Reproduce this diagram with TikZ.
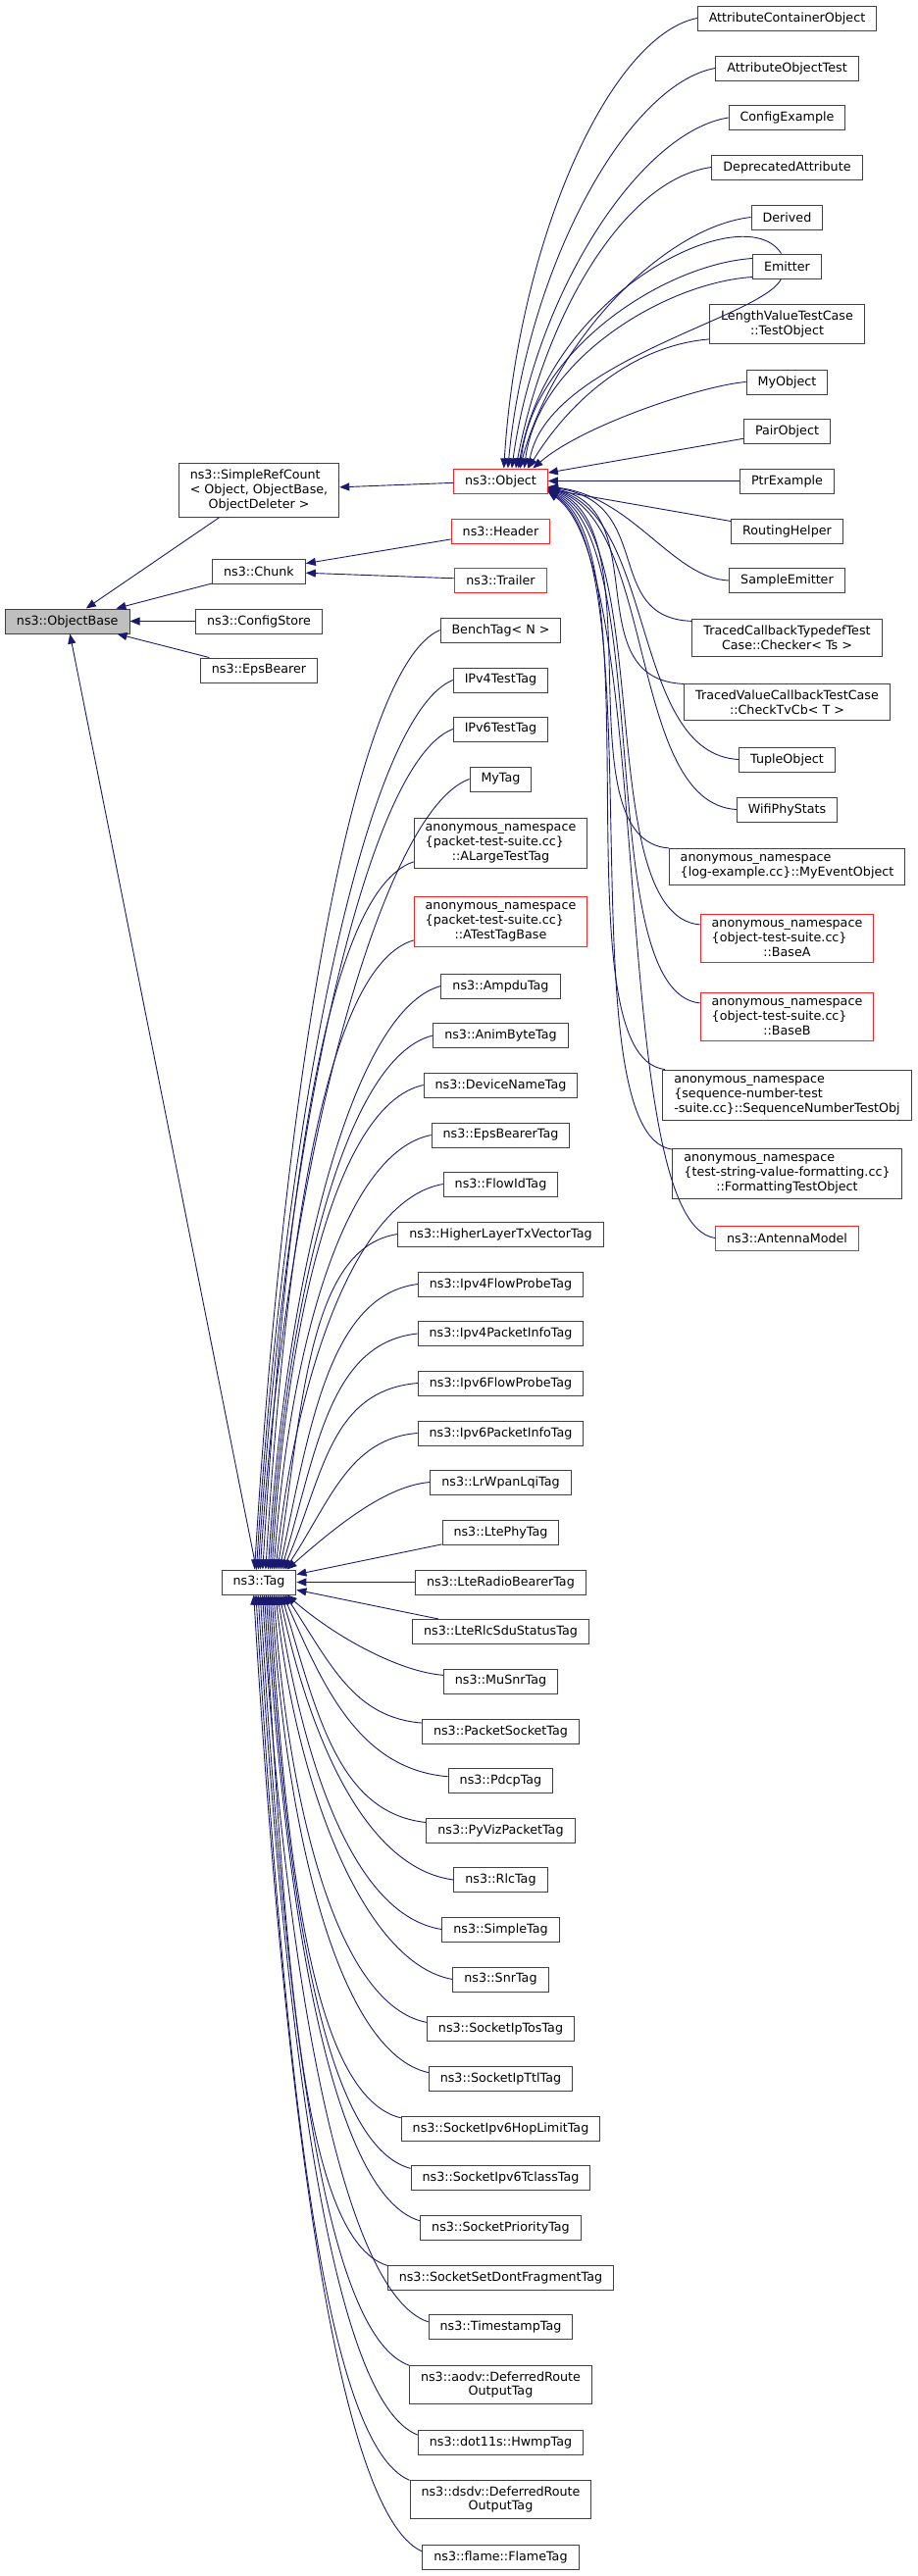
\documentclass[tikz,border=0pt]{standalone}
\usepackage{fontspec}
\setmainfont{DejaVu Sans}
\usepackage{xcolor}
\usetikzlibrary{arrows.meta}
\definecolor{edgeblue}{HTML}{191970}
\definecolor{boxline}{HTML}{404040}
\definecolor{boxred}{HTML}{FF2020}
\definecolor{boxgrey}{HTML}{BFBFBF}
\newcommand{\ctr}[1]{\hfill#1\hfill\mbox{}}
\tikzset{
  cls/.style={draw=boxline, line width=1pt, fill=white, inner xsep=11.5pt, inner ysep=6.3pt,
    minimum height=25pt, align=left, font=\fontsize{12.7}{14.8}\selectfont},
  inherit/.style={draw=edgeblue, line width=0.9pt, {Triangle[length=10pt,width=8pt]}-},
}

\begin{document}
\begin{tikzpicture}[x=1pt,y=-1pt]
  \useasboundingbox (0,0) rectangle (936,2627);
  % bases
  \node[cls, fill=boxgrey] (ObjectBase) at (68.75,633.5) {ns3::ObjectBase};
  \node[cls] (SRC) at (264,500) {ns3::SimpleRefCount\\< Object, ObjectBase,\\\ctr{ObjectDeleter >}};
  \node[cls] (Chunk) at (264,582.5) {ns3::Chunk};
  \node[cls] (ConfigStore) at (264,633.5) {ns3::ConfigStore};
  \node[cls] (EpsBearer) at (264,683.5) {ns3::EpsBearer};
  \node[cls] (Tag) at (264,1613.5) {ns3::Tag};
  \node[cls, draw=boxred] (Object) at (510.5,490.5) {ns3::Object};
  \node[cls, draw=boxred] (Header) at (510.5,541.5) {ns3::Header};
  \node[cls, draw=boxred] (Trailer) at (510.5,591.5) {ns3::Trailer};

  % subclasses of ns3::Object
  \foreach \n/\y/\c/\t in {
    ACO/18.5/boxline/AttributeContainerObject,
    AOT/69.5/boxline/AttributeObjectTest,
    CE/120/boxline/ConfigExample,
    DA/170.5/boxline/DeprecatedAttribute,
    Der/221.5/boxline/Derived,
    Emi/271.5/boxline/Emitter,
    LVT/330.5/boxline/{LengthValueTestCase\\\ctr{::TestObject}},
    MyO/389.5/boxline/MyObject,
    PO/439.5/boxline/PairObject,
    PE/490.5/boxline/PtrExample,
    RH/541.5/boxline/RoutingHelper,
    SE/592/boxline/SampleEmitter,
    TCT/650.5/boxline/{TracedCallbackTypedefTest\\\ctr{Case::Checker< Ts >}},
    TVC/716/boxline/{TracedValueCallbackTestCase\\\ctr{::CheckTvCb< T >}},
    TO/774.5/boxline/TupleObject,
    WPS/825.5/boxline/WifiPhyStats,
    MEO/884/boxline/{anonymous\_namespace\\\{log-example.cc\}::MyEventObject},
    BA/957/boxred/{anonymous\_namespace\\\{object-test-suite.cc\}\\\ctr{::BaseA}},
    BB/1037/boxred/{anonymous\_namespace\\\{object-test-suite.cc\}\\\ctr{::BaseB}},
    SNT/1117/boxline/{anonymous\_namespace\\\{sequence-number-test\\-suite.cc\}::SequenceNumberTestObj},
    FTO/1197/boxline/{anonymous\_namespace\\\{test-string-value-formatting.cc\}\\\ctr{::FormattingTestObject}},
    AM/1262.5/boxred/ns3::AntennaModel}
    \node[cls, draw=\c] (\n) at (802.5,\y) {\t};

  % subclasses of ns3::Tag
  \foreach \n/\y/\c/\t in {
    BT/642.5/boxline/BenchTag< N >,
    V4T/693.5/boxline/IPv4TestTag,
    V6T/743.5/boxline/IPv6TestTag,
    MyT/794.5/boxline/MyTag,
    ALT/860/boxline/{anonymous\_namespace\\\{packet-test-suite.cc\}\\\ctr{::ALargeTestTag}},
    ATB/940/boxred/{anonymous\_namespace\\\{packet-test-suite.cc\}\\\ctr{::ATestTagBase}},
    Amp/1005.5/boxline/ns3::AmpduTag,
    Anim/1056/boxline/ns3::AnimByteTag,
    Dev/1106.5/boxline/ns3::DeviceNameTag,
    EBT/1157.5/boxline/ns3::EpsBearerTag,
    Flow/1207.5/boxline/ns3::FlowIdTag,
    HL/1258.5/boxline/ns3::HigherLayerTxVectorTag,
    F4/1309.5/boxline/ns3::Ipv4FlowProbeTag,
    P4/1360/boxline/ns3::Ipv4PacketInfoTag,
    F6/1410.5/boxline/ns3::Ipv6FlowProbeTag,
    P6/1461.5/boxline/ns3::Ipv6PacketInfoTag,
    Lqi/1511.5/boxline/ns3::LrWpanLqiTag,
    LPhy/1562.5/boxline/ns3::LtePhyTag,
    LRB/1613.5/boxline/ns3::LteRadioBearerTag,
    LRlc/1664/boxline/ns3::LteRlcSduStatusTag,
    MuSnr/1714.5/boxline/ns3::MuSnrTag,
    PST/1765.5/boxline/ns3::PacketSocketTag,
    Pdcp/1815.5/boxline/ns3::PdcpTag,
    PyViz/1866.5/boxline/ns3::PyVizPacketTag,
    Rlc/1917/boxline/ns3::RlcTag,
    Simple/1967.5/boxline/ns3::SimpleTag,
    Snr/2018.5/boxline/ns3::SnrTag,
    Tos/2069/boxline/ns3::SocketIpTosTag,
    Ttl/2120/boxline/ns3::SocketIpTtlTag,
    Hop/2170.5/boxline/ns3::SocketIpv6HopLimitTag,
    Tcl/2221/boxline/ns3::SocketIpv6TclassTag,
    Prio/2272/boxline/ns3::SocketPriorityTag,
    DF/2322.5/boxline/ns3::SocketSetDontFragmentTag,
    TS/2373/boxline/ns3::TimestampTag,
    Aodv/2432/boxline/{ns3::aodv::DeferredRoute\\\ctr{OutputTag}},
    Hwmp/2490.5/boxline/ns3::dot11s::HwmpTag,
    Dsdv/2549/boxline/{ns3::dsdv::DeferredRoute\\\ctr{OutputTag}},
    Flame/2607.5/boxline/ns3::flame::FlameTag}
    \node[cls, draw=\c] (\n) at (510.5,\y) {\t};

  % straight edges
  \foreach \n in {SRC,Chunk,ConfigStore,EpsBearer,Tag}
    \draw[inherit] (ObjectBase) -- (\n);
  \draw[inherit] (SRC) -- (Object);
  \draw[inherit] (Chunk) -- (Header);
  \draw[inherit] (Chunk) -- (Trailer);
  \foreach \n in {PO,PE,RH}
    \draw[inherit] (Object) -- (\n);
  \foreach \n in {LPhy,LRB,LRlc}
    \draw[inherit] (Tag) -- (\n);

  % ns3::Object, children above
  \foreach \n/\y/\e in {ACO/18.5/180, AOT/69.5/180, CE/120/180, DA/170.5/180,
                        Der/221.5/180, LVT/330.5/191, MyO/389.5/180}{
    \pgfmathsetmacro\dy{478-\y}
    \pgfmathsetmacro\k{40-0.08*\dy}
    \pgfmathsetmacro\ax{max(0.03*\dy,60-0.1*\dy)}
    \pgfmathsetmacro\bx{min(90,0.5*\dy)}
    \draw[inherit] ([xshift=\k]Object.north) .. controls +(\ax,-0.5*\dy) and +(-\bx,0.04*\dy) .. (\n.\e);
  }
  % Emitter
  \draw[inherit] ([xshift=20]Object.north) .. controls +(12,-120) and +(-90,6) .. ([yshift=8]Emi.west);
  \draw[inherit] ([xshift=24]Object.north) .. controls +(14,-110) and +(-90,6) .. ([yshift=-11]Emi.west);
  \draw[inherit] ([xshift=18]Object.north) .. controls +(30,-180) and +(-37,-59) .. ([xshift=-6]Emi.north);
  \draw[inherit] ([xshift=28]Object.north) .. controls +(20,-110) and +(-20,40) .. ([xshift=-6]Emi.south);

  % ns3::Object, children below
  \foreach \n/\y/\e in {SE/592/180, TCT/650.5/170, TVC/716/170, TO/774.5/180, WPS/825.5/180,
                        MEO/884/171, BA/957/171, BB/1037/171, SNT/1117/168, FTO/1197/168, AM/1262.5/180}{
    \pgfmathsetmacro\dy{\y-497}
    \pgfmathsetmacro\k{-5-0.008*\dy}
    \pgfmathsetmacro\ax{min(110,0.9*\dy)}
    \pgfmathsetmacro\bx{min(110,0.6*\dy)}
    \draw[inherit] ([yshift=\k]Object.east) .. controls +(\ax,0.1*\dy) and +(-\bx,-0.02*\dy) .. (\n.\e);
  }

  % ns3::Tag, children above
  \foreach \n/\y/\e in {BT/642.5/180, V4T/693.5/180, V6T/743.5/180, MyT/794.5/180, ALT/860/192,
                        ATB/940/192, Amp/1005.5/180, Anim/1056/180, Dev/1106.5/180, EBT/1157.5/180,
                        Flow/1207.5/180, HL/1258.5/180, F4/1309.5/180, P4/1360/180, F6/1410.5/180,
                        P6/1461.5/180, Lqi/1511.5/180}{
    \pgfmathsetmacro\dy{1601-\y}
    \pgfmathsetmacro\k{32-0.038*\dy}
    \pgfmathsetmacro\ax{max(0.03*\dy,60-0.1*\dy)}
    \pgfmathsetmacro\bx{min(90,0.5*\dy)}
    \draw[inherit] ([xshift=\k]Tag.north) .. controls +(\ax,-0.5*\dy) and +(-\bx,0.04*\dy) .. (\n.\e);
  }
  % ns3::Tag, children below
  \foreach \n/\y/\e in {MuSnr/1714.5/174, PST/1765.5/174, Pdcp/1815.5/176, PyViz/1866.5/174,
                        Rlc/1917/180, Simple/1967.5/180, Snr/2018.5/180, Tos/2069/175, Ttl/2120/175,
                        Hop/2170.5/174, Tcl/2221/174, Prio/2272/175, DF/2322.5/174, TS/2373/176,
                        Aodv/2432/168, Hwmp/2490.5/175, Dsdv/2549/168, Flame/2607.5/176}{
    \pgfmathsetmacro\dy{\y-1626}
    \pgfmathsetmacro\k{32-0.038*\dy}
    \pgfmathsetmacro\ax{max(0.03*\dy,60-0.1*\dy)}
    \pgfmathsetmacro\bx{min(90,0.5*\dy)}
    \draw[inherit] ([xshift=\k]Tag.south) .. controls +(\ax,0.5*\dy) and +(-\bx,-0.04*\dy) .. (\n.\e);
  }
\end{tikzpicture}
\end{document}
